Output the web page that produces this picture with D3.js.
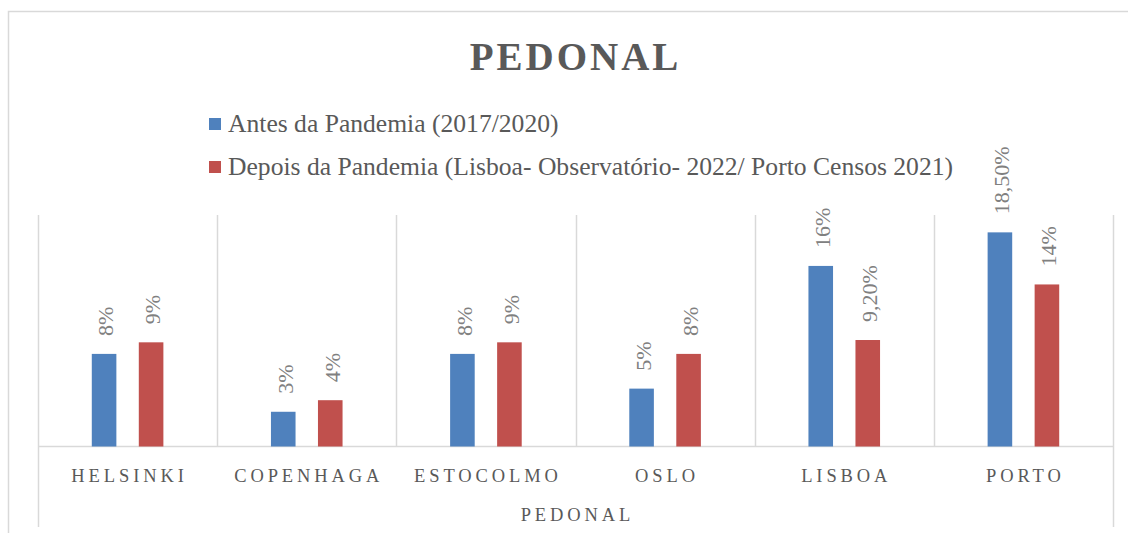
<!DOCTYPE html>
<html>
<head>
<meta charset="utf-8">
<script src="https://cdn.jsdelivr.net/npm/d3@7"></script>
<style>
  html, body { margin: 0; padding: 0; background: #fff; }
  svg { display: block; }
  text { font-family: "Liberation Serif", "DejaVu Serif", serif; }
</style>
</head>
<body>
<svg id="chart" width="1128" height="533"></svg>
<script>
const categories = ["HELSINKI", "COPENHAGA", "ESTOCOLMO", "OSLO", "LISBOA", "PORTO"];
const seriesNames = ["Antes da Pandemia (2017/2020)", "Depois da Pandemia (Lisboa- Observatório- 2022/ Porto Censos 2021)"];
const antesValues = [8, 3, 8, 5, 15.6, 18.5];
const depoisValues = [9, 4, 9, 8, 9.2, 14];
const antesLabels = ["8%", "3%", "8%", "5%", "16%", "18,50%"];
const depoisLabels = ["9%", "4%", "9%", "8%", "9,20%", "14%"];
const seriesColors = ["#4F81BD", "#C0504D"];
const yDomain = [0, 20];
const chartTitle = "PEDONAL";
const axisTitle = "PEDONAL";

const svg = d3.select("#chart");
const plot = { left: 38, right: 1113, top: 215, bottom: 446.5 };

// outer chart border
svg.append("path")
  .attr("d", `M8.5,540 V11.5 H1140`)
  .attr("fill", "none").attr("stroke", "#d9d9d9").attr("stroke-width", 1.5);

const x0 = d3.scaleBand().domain(categories).range([plot.left, plot.right]).padding(0);
const groupW = 71.6;
const x1 = d3.scaleBand().domain([0, 1])
  .range([(x0.bandwidth() - groupW) / 2, (x0.bandwidth() + groupW) / 2])
  .paddingInner(0.477).paddingOuter(0);
const y = d3.scaleLinear().domain(yDomain).range([plot.bottom, plot.top]);

// vertical gridlines (category separators)
const gridG = svg.append("g");
const seps = categories.map(c => x0(c)).concat([plot.right]);
seps.forEach((sx, i) => {
  const outer = (i === 0 || i === seps.length - 1);
  gridG.append("line")
    .attr("x1", Math.round(sx) + 0.5).attr("x2", Math.round(sx) + 0.5)
    .attr("y1", plot.top).attr("y2", outer ? 527 : plot.bottom)
    .attr("stroke", "#d9d9d9").attr("stroke-width", 1.5);
});
// baseline
gridG.append("line")
  .attr("x1", plot.left).attr("x2", plot.right)
  .attr("y1", plot.bottom).attr("y2", plot.bottom)
  .attr("stroke", "#d9d9d9").attr("stroke-width", 1.5);

const data = categories.map((c, i) => ({
  cat: c,
  vals: [
    { s: 0, v: antesValues[i], label: antesLabels[i] },
    { s: 1, v: depoisValues[i], label: depoisLabels[i] }
  ]
}));

const groups = svg.append("g").selectAll("g").data(data).join("g")
  .attr("transform", d => `translate(${x0(d.cat)},0)`);

groups.selectAll("rect").data(d => d.vals).join("rect")
  .attr("x", d => x1(d.s))
  .attr("width", x1.bandwidth())
  .attr("y", d => y(d.v))
  .attr("height", d => y(0) - y(d.v))
  .attr("fill", d => seriesColors[d.s]);

groups.selectAll("text.lbl").data(d => d.vals).join("text")
  .attr("class", "lbl")
  .attr("transform", d => `translate(${x1(d.s) + x1.bandwidth() / 2 + 2},${y(d.v) - 18}) rotate(-90)`)
  .attr("dy", "0.33em")
  .attr("font-size", 22)
  .attr("fill", "#808080")
  .text(d => d.label);

// category labels
svg.append("g").selectAll("text").data(categories).join("text")
  .attr("x", d => x0(d) + x0.bandwidth() / 2 + 2)
  .attr("y", 482)
  .attr("text-anchor", "middle")
  .attr("font-size", 18.5)
  .attr("letter-spacing", 3.9)
  .attr("fill", "#595959")
  .text(d => d);

// axis title
svg.append("text")
  .attr("x", (plot.left + plot.right) / 2 + 2)
  .attr("y", 521)
  .attr("text-anchor", "middle")
  .attr("font-size", 18.5)
  .attr("letter-spacing", 3.9)
  .attr("fill", "#595959")
  .text(axisTitle);

// chart title
svg.append("text")
  .attr("x", 575.5)
  .attr("y", 70)
  .attr("text-anchor", "middle")
  .attr("font-size", 39)
  .attr("font-weight", "bold")
  .attr("letter-spacing", 3)
  .attr("fill", "#595959")
  .text(chartTitle);

// legend
const legend = svg.append("g");
seriesNames.forEach((n, i) => {
  const ly = 132 + i * 43;
  legend.append("rect")
    .attr("x", 209).attr("y", ly - 14).attr("width", 12).attr("height", 12)
    .attr("fill", seriesColors[i]);
  legend.append("text")
    .attr("x", 228).attr("y", ly)
    .attr("font-size", 25.6)
    .attr("fill", "#595959")
    .text(n);
});
</script>
</body>
</html>
